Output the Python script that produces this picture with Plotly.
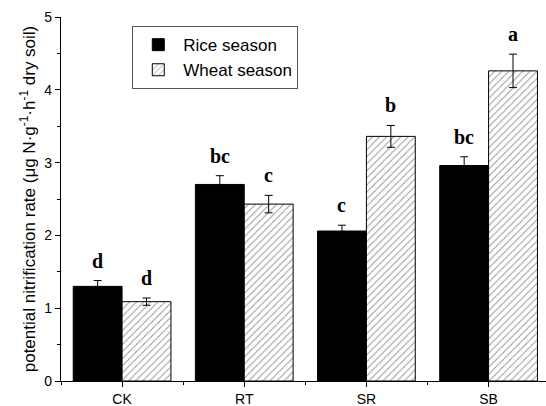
import plotly.graph_objects as go

categories = ["CK", "RT", "SR", "SB"]
rice = [1.30, 2.70, 2.06, 2.96]
rice_err = [0.08, 0.12, 0.08, 0.12]
wheat = [1.09, 2.43, 3.36, 4.26]
wheat_err = [0.05, 0.12, 0.15, 0.23]
rice_letters = ["d", "bc", "c", "bc"]
wheat_letters = ["d", "c", "b", "a"]

xpos = list(range(len(categories)))

fig = go.Figure()
fig.add_trace(go.Bar(
    x=xpos, y=rice, name="Rice season",
    marker=dict(color="black", line=dict(color="black", width=1)),
    error_y=dict(type="data", array=rice_err, color="black", thickness=1, width=4),
))
fig.add_trace(go.Bar(
    x=xpos, y=wheat, name="Wheat season",
    marker=dict(color="white", line=dict(color="black", width=1),
                pattern=dict(shape="/", size=5, solidity=0.18, fgcolor="#222", bgcolor="white")),
    error_y=dict(type="data", array=wheat_err, color="black", thickness=1, width=4),
))

half = 0.2
for i in xpos:
    fig.add_annotation(x=i - half, y=rice[i] + rice_err[i], text="<b>%s</b>" % rice_letters[i],
                       showarrow=False, yanchor="bottom", yshift=7,
                       font=dict(family="Liberation Serif, Times New Roman, serif", size=20, color="black"))
    fig.add_annotation(x=i + half, y=wheat[i] + wheat_err[i], text="<b>%s</b>" % wheat_letters[i],
                       showarrow=False, yanchor="bottom", yshift=7,
                       font=dict(family="Liberation Serif, Times New Roman, serif", size=20, color="black"))

fig.update_layout(
    width=546, height=406,
    margin=dict(l=61, r=0, t=17, b=25),
    paper_bgcolor="white", plot_bgcolor="white",
    barmode="group", bargap=0.2, bargroupgap=0,
    font=dict(family="Liberation Sans, Arial, sans-serif", size=14, color="black"),
    showlegend=True,
    legend=dict(x=0.147, y=0.975, xanchor="left", yanchor="top",
                bordercolor="#555", borderwidth=1, bgcolor="white",
                font=dict(size=17), tracegroupgap=0, itemwidth=40),
    xaxis=dict(range=[-0.5, 3.47], tickvals=xpos, ticktext=categories,
               showline=True, linecolor="black", linewidth=1.2,
               ticks="outside", ticklen=5, tickcolor="black", showgrid=False, zeroline=False,
               minor=dict(tick0=-0.5, dtick=1, ticks="outside", ticklen=3, tickcolor="black"),
               tickfont=dict(size=14)),
    yaxis=dict(range=[0, 5], dtick=1, showline=True, linecolor="black", linewidth=1.2,
               ticks="outside", ticklen=5, tickcolor="black", showgrid=False, zeroline=False,
               minor=dict(dtick=0.5, ticks="outside", ticklen=3, tickcolor="black"),
               tickfont=dict(size=14),
               title=dict(text="potential nitrification rate (μg N·g<sup>-1</sup>·h<sup>-1</sup> dry soil)",
                          font=dict(size=17), standoff=4)),
)

fig.write_html("out.html")
